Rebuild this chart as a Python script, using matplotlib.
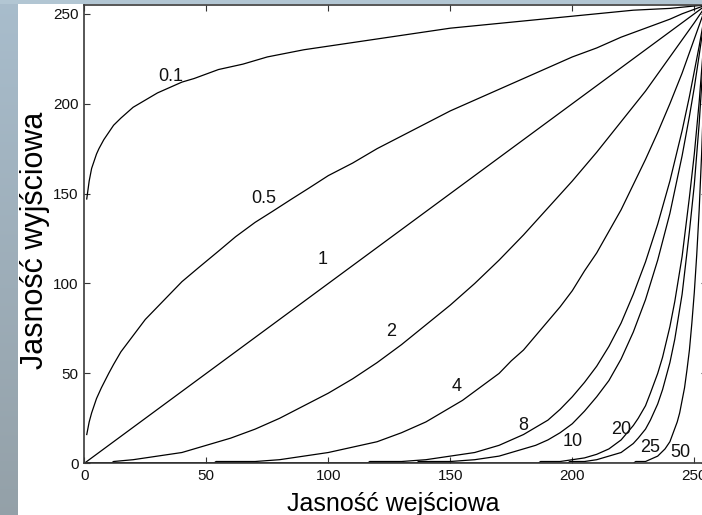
import matplotlib
matplotlib.use("Agg")
import matplotlib.pyplot as plt
import numpy as np

plt.rcParams['font.family'] = ['Liberation Sans', 'DejaVu Sans']

# ---- data ----
gamma_labels = ["0.1", "0.5", "1", "2", "4", "8", "10", "20", "25", "50"]

x_g01 = [1, 2, 3, 4, 5, 6, 8, 10, 12, 15, 20, 25, 30, 35, 40, 45, 55, 65, 75, 90, 105, 120,
         135, 150, 165, 180, 195, 210, 225, 240, 255]
y_g01 = [147, 157, 164, 168, 172, 175, 180, 184, 188, 192, 198, 202, 206, 209, 212, 214, 219, 222,
         226, 230, 233, 236, 239, 242, 244, 246, 248, 250, 252, 253, 255]

x_g05 = [1, 2, 3, 4, 5, 7, 10, 12, 15, 20, 25, 30, 35, 40, 47, 55, 62, 70, 77, 85, 92, 100, 110,
         120, 130, 140, 150, 160, 170, 180, 190, 200, 210, 220, 230, 240, 245, 255]
y_g05 = [16, 23, 28, 32, 36, 42, 50, 55, 62, 71, 80, 87, 94, 101, 109, 118, 126, 134, 140, 147,
         153, 160, 167, 175, 182, 189, 196, 202, 208, 214, 220, 226, 231, 237, 242, 247, 250, 255]

x_g1 = [0, 255]
y_g1 = [0, 255]

x_g2 = [0, 11, 12, 20, 30, 40, 50, 60, 70, 80, 90, 100, 110, 120, 130, 140, 150, 160, 170, 180,
        190, 200, 210, 220, 230, 240, 250, 255]
y_g2 = [0, 0, 1, 2, 4, 6, 10, 14, 19, 25, 32, 39, 47, 56, 66, 77, 88, 100, 113, 127,
        142, 157, 173, 190, 207, 226, 245, 255]

x_g4 = [0, 53, 54, 70, 80, 90, 100, 110, 120, 130, 140, 145, 150, 155, 160, 165, 170, 175, 180,
        185, 190, 195, 200, 205, 210, 215, 220, 225, 230, 235, 240, 245, 250, 255]
y_g4 = [0, 0, 1, 1, 2, 4, 6, 9, 12, 17, 23, 27, 31, 35, 40, 45, 50, 57, 63,
        71, 79, 87, 96, 107, 117, 129, 141, 155, 169, 184, 200, 217, 236, 255]

x_g8 = [0, 116, 117, 130, 140, 150, 155, 160, 165, 170, 175, 180, 185, 190, 195, 200, 205, 210,
        215, 220, 225, 230, 235, 240, 245, 248, 250, 252, 255]
y_g8 = [0, 0, 1, 1, 2, 4, 5, 6, 8, 10, 13, 16, 20, 24, 30, 37, 45, 54,
        65, 78, 94, 112, 133, 157, 185, 204, 218, 232, 255]

x_g10 = [0, 136, 137, 150, 160, 170, 180, 185, 190, 195, 200, 205, 210, 215, 220, 225, 230, 235,
         240, 245, 248, 250, 252, 255]
y_g10 = [0, 0, 1, 1, 2, 4, 8, 10, 13, 17, 22, 29, 37, 46, 58, 73, 91, 113,
         139, 171, 193, 209, 227, 255]

x_g20 = [0, 186, 187, 195, 200, 205, 210, 215, 220, 225, 227, 230, 232, 235, 237, 240, 242, 245,
         248, 250, 252, 254, 255]
y_g20 = [0, 0, 1, 1, 2, 3, 5, 8, 13, 21, 25, 32, 39, 50, 59, 76, 90, 115,
         148, 172, 201, 236, 255]

x_g25 = [0, 198, 199, 205, 210, 215, 220, 225, 227, 230, 232, 235, 237, 240, 242, 245, 248, 250,
         252, 254, 255]
y_g25 = [0, 0, 1, 1, 2, 4, 6, 11, 14, 19, 24, 33, 41, 56, 69, 94, 129, 155,
         189, 231, 255]

x_g50 = [0, 225, 226, 230, 235, 238, 240, 243, 244, 245, 246, 247, 248, 249, 250, 251, 252, 253,
         254, 255]
y_g50 = [0, 0, 1, 1, 4, 8, 12, 23, 28, 35, 42, 52, 63, 78, 95, 116, 141, 172,
         210, 255]

label_x = [35.3, 73.5, 97.6, 125.7, 152.6, 179.7, 200.0, 219.9, 231.8, 244.1]
label_y = [215.4, 147.2, 113.5, 73.5, 42.6, 21.3, 12.0, 19.0, 8.8, 6.0]

ticks = [0, 50, 100, 150, 200, 250]
xlabel_text = "Jasność wejściowa"
ylabel_text = "Jasność wyjściowa"

# ---- figure ----
W, H = 702, 515
fig = plt.figure(figsize=(W / 100, H / 100), dpi=100)
fig.patch.set_facecolor('white')

# slide background strips
top_c = np.array([0.66, 0.74, 0.80])
bot_c = np.array([0.58, 0.63, 0.66])
t = np.linspace(0, 1, 200)[:, None]
grad = (top_c[None, :] * (1 - t) + bot_c[None, :] * t)[:, None, :]
axl = fig.add_axes([0, 0, 17.3 / W, 1])
axl.imshow(grad, aspect='auto', extent=[0, 1, 0, 1])
axl.axis('off')
axt = fig.add_axes([0, 1 - 4.5 / H, 1, 4.5 / H])
axt.imshow(np.array([[[0.70, 0.78, 0.83]]]), aspect='auto', extent=[0, 1, 0, 1])
axt.axis('off')

ax = fig.add_axes([84.3 / W, (H - 463.3) / H, (706.5 - 84.3) / W, (463.3 - 4.8) / H])
series = [(x_g01, y_g01), (x_g05, y_g05), (x_g1, y_g1), (x_g2, y_g2), (x_g4, y_g4),
          (x_g8, y_g8), (x_g10, y_g10), (x_g20, y_g20), (x_g25, y_g25), (x_g50, y_g50)]
for xs, ys in series:
    ax.plot(xs, ys, color='black', lw=0.9)

for lbl, lx, ly in zip(gamma_labels, label_x, label_y):
    ax.text(lx, ly, lbl, ha='center', va='center', fontsize=13, color='#111111')

ax.set_xlim(0, 255)
ax.set_ylim(0, 255)
ax.set_xticks(ticks)
ax.set_yticks(ticks)
ax.tick_params(direction='in', length=4.3, width=0.8, top=True, right=True,
               labelsize=11, pad=4, colors='#333333', labelcolor='#111111')
for sp in ax.spines.values():
    sp.set_color('#3a3a3a')
    sp.set_linewidth(1.2)

fig.text(393 / W, 1 - 511 / H, xlabel_text, ha='center', va='baseline', fontsize=18, color='black')
fig.text(35 / W, 1 - 240 / H, ylabel_text, ha='center', va='center', rotation=90,
         fontsize=22, color='black')

fig.savefig('out.png', dpi=100)
